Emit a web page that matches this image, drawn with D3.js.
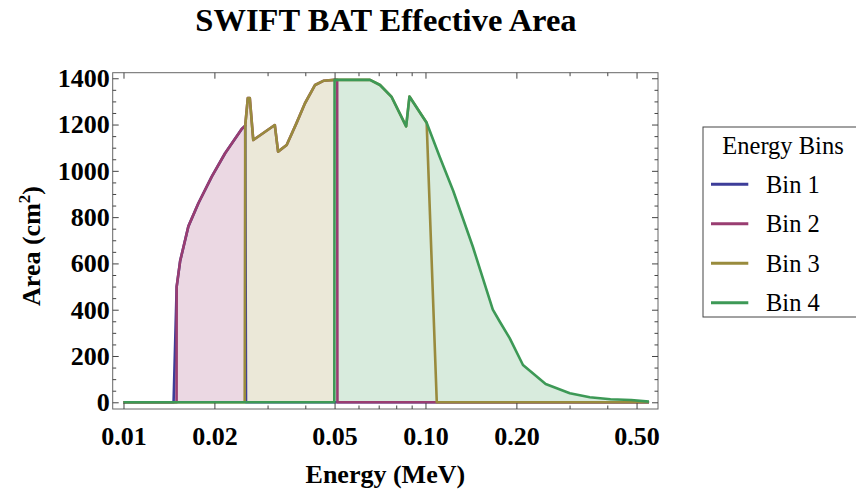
<!DOCTYPE html>
<html>
<head>
<meta charset="utf-8">
<script src="https://cdn.jsdelivr.net/npm/d3@7"></script>
<style>
  body { margin: 0; background: #fff; }
  svg text { font-family: "Liberation Serif", "Times New Roman", Times, Tinos, "DejaVu Serif", serif; }
  .tick line { stroke: #444; }
</style>
</head>
<body>
<svg id="chart" width="856" height="491"></svg>
<script>
// ------ Data: effective area per energy bin (energy in MeV, area in cm^2)
var binNames = ["Bin 1", "Bin 2", "Bin 3", "Bin 4"];

var bin1E = [0.01, 0.01465, 0.0150, 0.0154, 0.0164, 0.0177, 0.0196, 0.0217, 0.0246, 0.0253, 0.02545, 0.55];
var bin1A = [0,    0,       500,    610,    760,    860,    975,    1076,   1180,   1195,   0,       0];

var bin2E = [0.01, 0.01499, 0.0150, 0.0154, 0.0164, 0.0177, 0.0196, 0.0217, 0.0246, 0.0253, 0.0258, 0.0262, 0.0269, 0.0317, 0.0325, 0.0347, 0.0374, 0.0399, 0.0431, 0.0459, 0.0500, 0.0510, 0.0511, 0.55];
var bin2A = [0,    0,       500,    610,    760,    860,    975,    1076,   1180,   1195,   1314,   1314,   1133,   1198,   1083,   1112,   1206,   1292,   1371,   1389,   1393,   1393,   0,      0];

var bin3E = [0.01, 0.0252, 0.0253, 0.0258, 0.0262, 0.0269, 0.0317, 0.0325, 0.0347, 0.0374, 0.0399, 0.0431, 0.0459, 0.0500, 0.0655, 0.0707, 0.0771, 0.0863, 0.0885, 0.1009, 0.1090, 0.55];
var bin3A = [0,    0,      1195,   1314,   1314,   1133,   1198,   1083,   1112,   1206,   1292,   1371,   1389,   1393,   1393,   1371,   1321,   1192,   1321,   1208,   0,      0];

var bin4E = [0.01, 0.0499, 0.0500, 0.0655, 0.0707, 0.0771, 0.0863, 0.0885, 0.1009, 0.1115, 0.1236, 0.1435, 0.1671, 0.1763, 0.19, 0.2103, 0.25, 0.3006, 0.35, 0.4098, 0.48, 0.5495];
var bin4A = [0,    0,      1393,   1393,   1371,   1321,   1192,   1321,   1208,   1060,   913,    672,    400,    348,    277,  161,    79,   39,     22,   13,     10,   3];

// tick values
var xMajor = [0.01, 0.02, 0.05, 0.1, 0.2, 0.5];
var xMinor = [0.03, 0.04, 0.06, 0.07, 0.08, 0.09, 0.3, 0.4];
var yMajor = [0, 200, 400, 600, 800, 1000, 1200, 1400];
var yMinor = [50, 100, 150, 250, 300, 350, 450, 500, 550, 650, 700, 750, 850, 900, 950, 1050, 1100, 1150, 1250, 1300, 1350];

// ------ Styles
var lineColors = ["#3d3d99", "#993d71", "#998b3d", "#3d9956"];
var fillColors = ["#d8d8eb", "#ebd8e3", "#ebe8d8", "#d8ebdd"];
var serif = "'Liberation Serif', 'Times New Roman', Times, Tinos, 'DejaVu Serif', serif";

// ------ Layout
var frame = {left: 112.7, right: 658, top: 72.7, bottom: 409};

var svg = d3.select("#chart");

var x = d3.scaleLog().domain([0.00921, 0.5888]).range([frame.left, frame.right]);
var y = d3.scaleLinear().domain([-29, 1424]).range([frame.bottom, frame.top]);

var series = [
  d3.zip(bin1E, bin1A),
  d3.zip(bin2E, bin2A),
  d3.zip(bin3E, bin3A),
  d3.zip(bin4E, bin4A)
];

var area = d3.area()
  .x(function(d) { return x(d[0]); })
  .y0(y(0))
  .y1(function(d) { return y(d[1]); });

var line = d3.line()
  .x(function(d) { return x(d[0]); })
  .y(function(d) { return y(d[1]); });

// fills first, then lines on top
svg.append("g").selectAll("path")
  .data(series).enter().append("path")
  .attr("d", area)
  .style("fill", function(d, i) { return fillColors[i]; })
  .style("stroke", "none");

svg.append("g").selectAll("path")
  .data(series).enter().append("path")
  .attr("d", line)
  .style("fill", "none")
  .style("stroke", function(d, i) { return lineColors[i]; })
  .style("stroke-width", 2.6)
  .style("stroke-linejoin", "round");

// ------ Frame
svg.append("rect")
  .attr("x", frame.left).attr("y", frame.top)
  .attr("width", frame.right - frame.left)
  .attr("height", frame.bottom - frame.top)
  .style("fill", "none").style("stroke", "#666").style("stroke-width", 1);

function axisStyle(g) {
  g.select(".domain").remove();
  g.selectAll(".tick text")
    .style("font-family", serif)
    .style("font-size", "26px").style("font-weight", "bold").style("fill", "#000");
}

// x axis - bottom
svg.append("g")
  .attr("transform", "translate(0," + frame.bottom + ")")
  .call(d3.axisBottom(x).tickValues(xMajor).tickSize(-6).tickPadding(17.5).tickFormat(d3.format(".2f")))
  .call(axisStyle);
svg.append("g")
  .attr("transform", "translate(0," + frame.bottom + ")")
  .call(d3.axisBottom(x).tickValues(xMinor).tickSize(-3.5).tickFormat(""))
  .call(axisStyle);
// x axis - top (mirrored ticks)
svg.append("g")
  .attr("transform", "translate(0," + frame.top + ")")
  .call(d3.axisTop(x).tickValues(xMajor).tickSize(-6).tickFormat(""))
  .call(axisStyle);
svg.append("g")
  .attr("transform", "translate(0," + frame.top + ")")
  .call(d3.axisTop(x).tickValues(xMinor).tickSize(-3.5).tickFormat(""))
  .call(axisStyle);

// y axis - left
svg.append("g")
  .attr("transform", "translate(" + frame.left + ",0)")
  .call(d3.axisLeft(y).tickValues(yMajor).tickSize(-6).tickPadding(3).tickFormat(d3.format("d")))
  .call(axisStyle);
svg.append("g")
  .attr("transform", "translate(" + frame.left + ",0)")
  .call(d3.axisLeft(y).tickValues(yMinor).tickSize(-3.5).tickFormat(""))
  .call(axisStyle);
// y axis - right
svg.append("g")
  .attr("transform", "translate(" + frame.right + ",0)")
  .call(d3.axisRight(y).tickValues(yMajor).tickSize(-6).tickFormat(""))
  .call(axisStyle);
svg.append("g")
  .attr("transform", "translate(" + frame.right + ",0)")
  .call(d3.axisRight(y).tickValues(yMinor).tickSize(-3.5).tickFormat(""))
  .call(axisStyle);

// ------ Labels
svg.append("text")
  .attr("x", 386).attr("y", 31)
  .style("text-anchor", "middle")
  .style("font-family", serif)
  .style("font-size", "32.5px").style("font-weight", "bold")
  .text("SWIFT BAT Effective Area");

svg.append("text")
  .attr("x", (frame.left + frame.right) / 2).attr("y", 483)
  .style("text-anchor", "middle")
  .style("font-family", serif)
  .style("font-size", "26px").style("font-weight", "bold")
  .text("Energy (MeV)");

var yLab = svg.append("text")
  .attr("transform", "translate(40,246) rotate(-90)")
  .style("text-anchor", "middle")
  .style("font-family", serif)
  .style("font-size", "26px").style("font-weight", "bold");
yLab.append("tspan").text("Area (cm");
yLab.append("tspan").attr("dy", -10).style("font-size", "17px").text("2");
yLab.append("tspan").attr("dy", 10).text(")");

// ------ Legend
var legend = svg.append("g").attr("transform", "translate(703,127)");
legend.append("rect")
  .attr("width", 160).attr("height", 190)
  .style("fill", "#fff").style("stroke", "#444").style("stroke-width", 1);
legend.append("text")
  .attr("x", 80).attr("y", 27.3)
  .style("text-anchor", "middle")
  .style("font-family", serif).style("font-weight", "normal")
  .style("font-size", "24.5px")
  .text("Energy Bins");

var item = legend.selectAll(".item")
  .data(binNames).enter().append("g")
  .attr("class", "item")
  .attr("transform", function(d, i) { return "translate(0," + (57.3 + i * 39.5) + ")"; });
item.append("line")
  .attr("x1", 8).attr("x2", 45.3)
  .style("stroke", function(d, i) { return lineColors[i]; })
  .style("stroke-width", 3);
item.append("text")
  .attr("x", 63).attr("y", 8.4)
  .style("font-family", serif).style("font-weight", "normal")
  .style("font-size", "24.5px")
  .text(function(d) { return d; });
</script>
</body>
</html>
